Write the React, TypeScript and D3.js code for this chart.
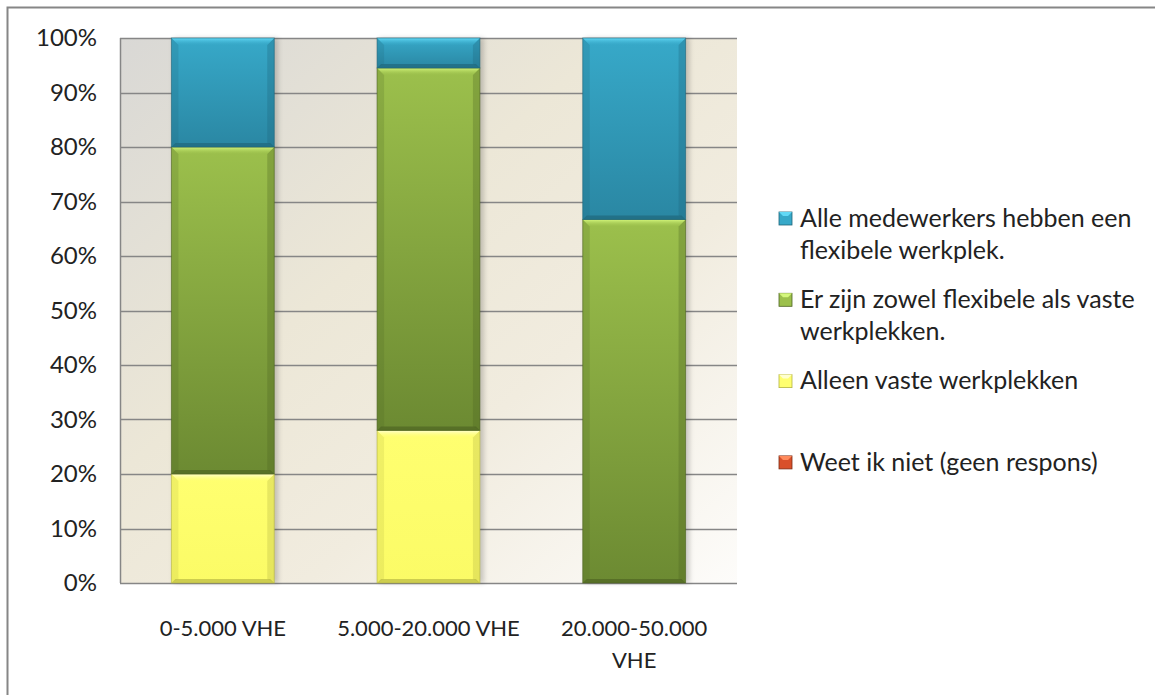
import * as d3 from "d3";

// categories and series values (percent of respondents)
const categories = ["0-5.000 VHE", "5.000-20.000 VHE", "20.000-50.000 VHE"];
const categoryLines = [["0-5.000 VHE"], ["5.000-20.000 VHE"], ["20.000-50.000", "VHE"]];

const weetNiet = [0, 0, 0];
const alleenVast = [20, 28, 0];
const zowel = [60, 66.5, 66.7];
const alleFlex = [20, 5.5, 33.3];

const yTicks = [0, 10, 20, 30, 40, 50, 60, 70, 80, 90, 100];

const seriesKeys = ["weet", "vast", "zowel", "flex"];
const legendItems = [
  { key: "flex", lines: ["Alle medewerkers hebben een", "flexibele werkplek."] },
  { key: "zowel", lines: ["Er zijn zowel flexibele als vaste", "werkplekken."] },
  { key: "vast", lines: ["Alleen vaste werkplekken"] },
  { key: "weet", lines: ["Weet ik niet (geen respons)"] },
];

// base / light / dark / highlight shades per series
const palette: Record<string, { top: string; bottom: string; hi: string; lo: string }> = {
  flex: { top: "#37a9c9", bottom: "#2a87a3", hi: "#62d9f6", lo: "#1f6579" },
  zowel: { top: "#9cc04c", bottom: "#6c8a32", hi: "#d4f77c", lo: "#4d6322" },
  vast: { top: "#ffff70", bottom: "#fbfb66", hi: "#ffffd0", lo: "#b3b342" },
  weet: { top: "#d9502a", bottom: "#b8401c", hi: "#ff8a5c", lo: "#7a2a12" },
};

const W = 1155;
const H = 695;
const plot = { left: 120, top: 38, right: 737, bottom: 583 };
const FONT = "Lato, 'Open Sans', sans-serif";

const rows = categories.map((c, i) => ({
  cat: c,
  weet: weetNiet[i],
  vast: alleenVast[i],
  zowel: zowel[i],
  flex: alleFlex[i],
}));

function Segment({ x, y, w, h, k }: { x: number; y: number; w: number; h: number; k: string }) {
  if (h <= 0.5) return null;
  const b = Math.min(7, h / 3);
  const bb = Math.min(4, h / 4);
  const p = palette[k];
  return (
    <g transform={`translate(${x},${y})`}>
      <rect width={w} height={h} fill={`url(#grad-${k})`} />
      {/* left and right edges */}
      <polygon points={`0,0 ${b},${b} ${b},${h - bb} 0,${h}`} fill={p.lo} opacity={0.2} />
      <polygon points={`${w},0 ${w - b},${b} ${w - b},${h - bb} ${w},${h}`} fill={p.lo} opacity={0.3} />
      {/* bottom bevel */}
      <polygon points={`0,${h} ${bb},${h - bb} ${w - bb},${h - bb} ${w},${h}`} fill={p.lo} opacity={0.65} />
      {/* top highlight */}
      <polygon points={`0,0 ${w},0 ${w - b},${b} ${b},${b}`} fill={`url(#hi-${k})`} />
      <rect width={w} height={h} fill="none" stroke={p.lo} strokeOpacity={0.6} strokeWidth={1} />
    </g>
  );
}

export default function App() {
  const x = d3
    .scaleBand<string>()
    .domain(categories)
    .range([plot.left, plot.right])
    .paddingInner(0.5)
    .paddingOuter(0.25);
  const y = d3.scaleLinear().domain([0, 100]).range([plot.bottom, plot.top]);

  const stacked = d3.stack<any>().keys(seriesKeys)(rows);

  return (
    <svg
      width={W}
      height={H}
      style={{ position: "absolute", left: 0, top: 0, display: "block" }}
      fontFamily={FONT}
    >
      <defs>
        <linearGradient id="plotBg" x1="0" y1="0" x2="1" y2="1">
          <stop offset="0" stopColor="#d9d8d5" />
          <stop offset="0.4" stopColor="#ece7d7" />
          <stop offset="0.65" stopColor="#f1ecdf" />
          <stop offset="1" stopColor="#fdfcfa" />
        </linearGradient>
        {seriesKeys.map((k) => (
          <linearGradient key={k} id={`grad-${k}`} x1="0" y1="0" x2="0" y2="1">
            <stop offset="0" stopColor={palette[k].top} />
            <stop offset="1" stopColor={palette[k].bottom} />
          </linearGradient>
        ))}
        {seriesKeys.map((k) => (
          <linearGradient key={k} id={`hi-${k}`} x1="0" y1="0" x2="0" y2="1">
            <stop offset="0" stopColor={palette[k].hi} />
            <stop offset="1" stopColor={palette[k].top} stopOpacity={0.2} />
          </linearGradient>
        ))}
        <filter id="shadow" x="-20%" y="-5%" width="140%" height="110%">
          <feGaussianBlur stdDeviation="2.5" />
        </filter>
      </defs>

      <rect x={0} y={0} width={W} height={H} fill="#ffffff" />
      {/* outer chart border (right/bottom fall outside the picture) */}
      <rect x={7.5} y={7.5} width={W + 20} height={H + 20} fill="none" stroke="#868686" strokeWidth={2} />

      {/* plot area */}
      <rect
        x={plot.left}
        y={plot.top}
        width={plot.right - plot.left}
        height={plot.bottom - plot.top}
        fill="url(#plotBg)"
      />
      {yTicks.map((t) => (
        <line
          key={t}
          x1={plot.left}
          x2={plot.right}
          y1={Math.round(y(t)) + 0.5}
          y2={Math.round(y(t)) + 0.5}
          stroke="#868686"
          strokeWidth={1.5}
        />
      ))}
      <line x1={plot.left + 0.5} x2={plot.left + 0.5} y1={plot.top} y2={plot.bottom} stroke="#868686" strokeWidth={1.5} />

      {/* bar shadows */}
      {categories.map((c) => (
        <rect
          key={c}
          x={(x(c) as number) + 2}
          y={plot.top}
          width={x.bandwidth() + 2}
          height={plot.bottom - plot.top}
          fill="#000"
          opacity={0.18}
          filter="url(#shadow)"
        />
      ))}

      {/* stacked bars */}
      {stacked.map((s) =>
        s.map((d, i) => (
          <Segment
            key={`${s.key}-${i}`}
            k={s.key}
            x={x(rows[i].cat) as number}
            y={y(d[1])}
            w={x.bandwidth()}
            h={y(d[0]) - y(d[1])}
          />
        ))
      )}

      {/* y tick labels */}
      {yTicks.map((t) => (
        <text
          key={t}
          x={97}
          y={y(t)}
          dy="0.35em"
          textAnchor="end"
          fontSize={24}
          fill="#222"
        >
          {`${t}%`}
        </text>
      ))}

      {/* x category labels */}
      {categories.map((c, i) => (
        <text
          key={c}
          x={(x(c) as number) + x.bandwidth() / 2}
          y={628}
          textAnchor="middle"
          fontSize={22}
          fill="#222"
        >
          {categoryLines[i].map((line, j) => (
            <tspan key={j} x={(x(c) as number) + x.bandwidth() / 2} dy={j === 0 ? "0.35em" : 32}>
              {line}
            </tspan>
          ))}
        </text>
      ))}

      {/* legend */}
      {legendItems.map((item, i) => {
        const cy = 218 + i * 81.3;
        const p = palette[item.key];
        return (
          <g key={item.key}>
            <rect x={779} y={cy - 6} width={13} height={13} fill={p.top} stroke={p.lo} strokeWidth={0.8} />
            <polygon points={`${779},${cy - 6} ${792},${cy - 6} ${788},${cy - 2} ${783},${cy - 2}`} fill={p.hi} />
            <text x={800} y={cy} fontSize={25} fill="#222">
              {item.lines.map((line, j) => (
                <tspan key={j} x={800} dy={j === 0 ? "0.35em" : 32}>
                  {line}
                </tspan>
              ))}
            </text>
          </g>
        );
      })}
    </svg>
  );
}
